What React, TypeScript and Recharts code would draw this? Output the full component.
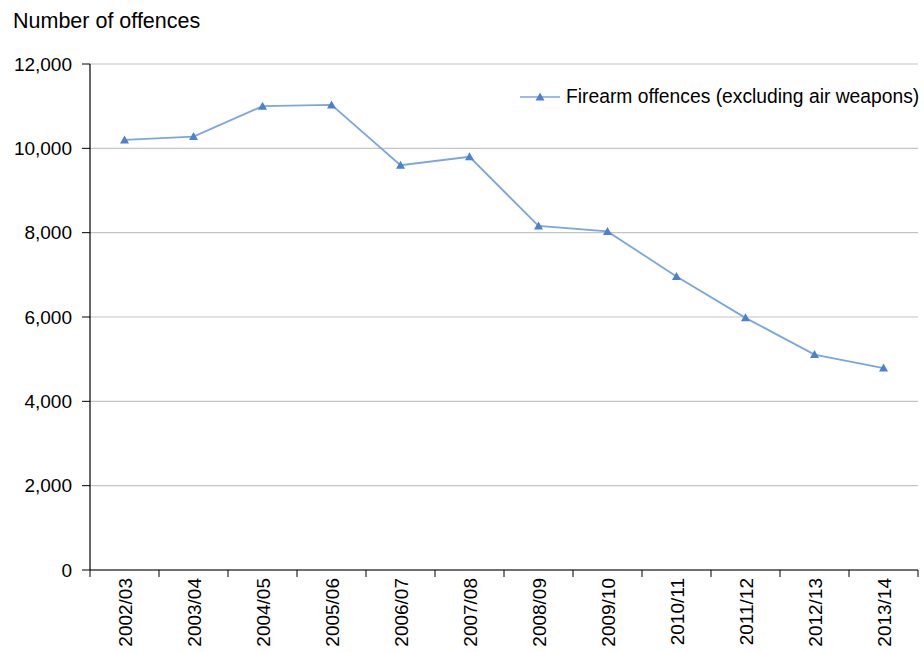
import { LineChart, Line, XAxis, YAxis, CartesianGrid } from "recharts";

const years = [
  "2002/03", "2003/04", "2004/05", "2005/06", "2006/07", "2007/08",
  "2008/09", "2009/10", "2010/11", "2011/12", "2012/13", "2013/14",
];
const firearmOffences = [
  10200, 10280, 11000, 11030, 9600, 9800, 8160, 8030, 6960, 5980, 5110, 4790,
];
const yTicks = [0, 2000, 4000, 6000, 8000, 10000, 12000];
const seriesName = "Firearm offences (excluding air weapons)";

const data = years.map((year, i) => ({ year, offences: firearmOffences[i] }));

const W = 924;
const H = 652;
const LEFT = 90;
const RIGHT = 6;
const BAND = (W - LEFT - RIGHT) / years.length;
const FONT = "'Liberation Sans', Arial, sans-serif";
const LINE = "#7aa7dd";
const MARK = "#4a82d0";

function Triangle({ cx, cy }: any) {
  if (cx == null || cy == null) return null;
  return (
    <polygon
      points={`${cx},${cy - 4.5} ${cx + 4.5},${cy + 3.5} ${cx - 4.5},${cy + 3.5}`}
      fill={MARK}
    />
  );
}

// category labels sit in the middle of each band, tick marks on the band edges
function YearTick({ x, y, payload, index }: any) {
  const left = x - BAND / 2;
  const right = x + BAND / 2;
  return (
    <g>
      <line x1={left} y1={y} x2={left} y2={y + 7} stroke="#000" />
      {index === years.length - 1 && (
        <line x1={right} y1={y} x2={right} y2={y + 7} stroke="#000" />
      )}
      <text
        transform={`translate(${x + 7},${y + 8}) rotate(-90)`}
        textAnchor="end"
        fontSize={19}
        fontFamily={FONT}
        fill="#000"
      >
        {payload.value}
      </text>
    </g>
  );
}

export default function App() {
  return (
    <div style={{ position: "absolute", left: 0, top: 0, width: W, height: H, background: "#fff" }}>
      <div
        style={{
          position: "absolute",
          left: 13,
          top: 9,
          fontFamily: FONT,
          fontSize: 21.5,
          color: "#000",
        }}
      >
        Number of offences
      </div>
      <div
        style={{
          position: "absolute",
          left: 518,
          top: 86,
          display: "flex",
          alignItems: "center",
          fontFamily: FONT,
          fontSize: 19.3,
          color: "#000",
          zIndex: 1,
          whiteSpace: "nowrap",
        }}
      >
        <svg width={44} height={12}>
          <line x1={2} y1={6} x2={42} y2={6} stroke={LINE} strokeWidth={1.5} />
          <Triangle cx={22} cy={6} />
        </svg>
        <span style={{ marginLeft: 4 }}>{seriesName}</span>
      </div>
      <LineChart
        width={W}
        height={H}
        data={data}
        margin={{ top: 64, right: RIGHT, bottom: 0, left: 0 }}
      >
        <CartesianGrid vertical={false} stroke="#c4c4c4" strokeWidth={1.2} />
        <XAxis
          dataKey="year"
          height={82}
          padding={{ left: BAND / 2, right: BAND / 2 }}
          tickSize={0}
          tickMargin={0}
          tickLine={false}
          axisLine={{ stroke: "#000", strokeWidth: 1.2 }}
          interval={0}
          tick={<YearTick />}
        />
        <YAxis
          width={LEFT}
          domain={[0, 12000]}
          ticks={yTicks}
          tickSize={8}
          tickMargin={10}
          tickFormatter={(v: number) => v.toLocaleString("en-US")}
          axisLine={{ stroke: "#000", strokeWidth: 1.2 }}
          tickLine={{ stroke: "#000" }}
          tick={{ fontSize: 19, fontFamily: FONT, fill: "#000" }}
        />
        <Line
          type="linear"
          dataKey="offences"
          name={seriesName}
          stroke={LINE}
          strokeWidth={1.8}
          dot={<Triangle />}
          activeDot={false}
          isAnimationActive={false}
        />
      </LineChart>
    </div>
  );
}
